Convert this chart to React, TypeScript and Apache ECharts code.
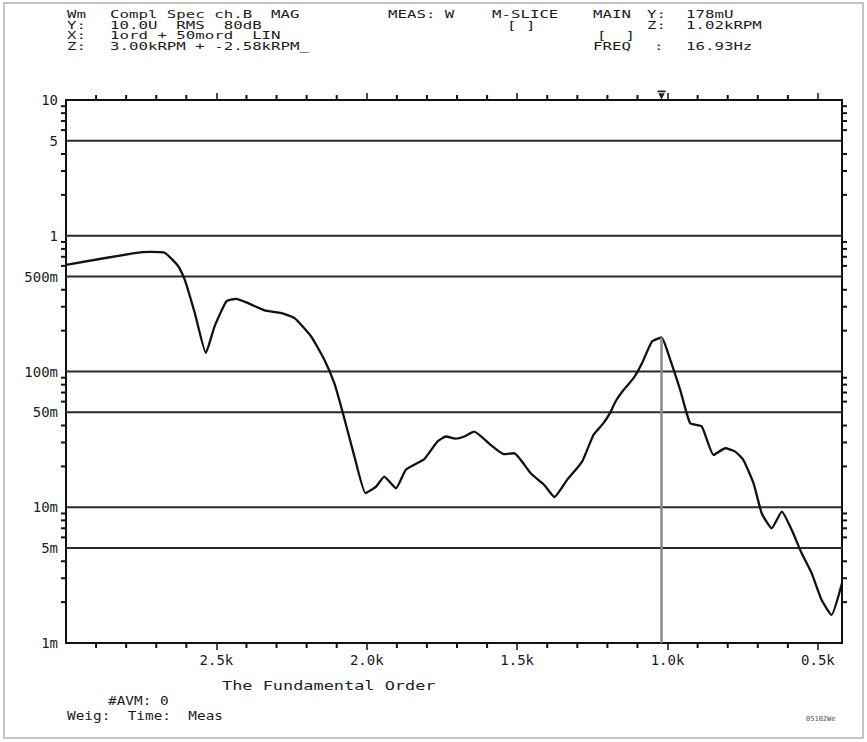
import React, { useEffect, useRef } from "react";
import * as echarts from "echarts";

// Order axis (kRPM) and magnitude (U, log scale)
const orderK = [
  3.0, 2.772, 2.72, 2.672, 2.626, 2.605, 2.572, 2.535, 2.506, 2.467, 2.434, 2.395,
  2.34, 2.284, 2.24, 2.185, 2.141, 2.108, 2.08, 2.041, 2.004, 1.969, 1.942, 1.903,
  1.87, 1.809, 1.765, 1.737, 1.704, 1.676, 1.643, 1.588, 1.544, 1.51, 1.455, 1.41,
  1.376, 1.334, 1.284, 1.246, 1.213, 1.19, 1.173, 1.146, 1.113, 1.085, 1.052, 1.02,
  0.991, 0.958, 0.925, 0.886, 0.847, 0.808, 0.775, 0.748, 0.714, 0.687, 0.654, 0.62,
  0.587, 0.554, 0.521, 0.488, 0.455, 0.42,
];
const magnitude = [
  0.611, 0.745, 0.76, 0.75, 0.594, 0.474, 0.271, 0.137, 0.215, 0.328, 0.343, 0.319,
  0.282, 0.269, 0.247, 0.181, 0.122, 0.082, 0.0499, 0.0236, 0.0127, 0.0142, 0.0168, 0.0138,
  0.0189, 0.0226, 0.0305, 0.0332, 0.032, 0.0332, 0.0361, 0.0288, 0.0246, 0.025, 0.0178, 0.0146,
  0.0119, 0.0159, 0.0217, 0.0342, 0.0417, 0.05, 0.0601, 0.0733, 0.0893, 0.115, 0.166, 0.178,
  0.122, 0.0733, 0.0417, 0.0393, 0.0243, 0.0272, 0.0257, 0.0223, 0.015, 0.00903, 0.007, 0.00929,
  0.0068, 0.00458, 0.00327, 0.00208, 0.00161, 0.00276,
];

const cursorOrder = 1.02;
const cursorValue = 0.178;

const xMin = 0.42;
const xMax = 3.0;
const xLabelValues = [0.5, 1.0, 1.5, 2.0, 2.5];
const xMinorTicks = [
  0.6, 0.7, 0.8, 0.9, 1.1, 1.2, 1.3, 1.4, 1.6, 1.7, 1.8, 1.9,
  2.1, 2.2, 2.3, 2.4, 2.6, 2.7, 2.8, 2.9,
];

const yMin = 0.001;
const yMax = 10;
const yLabelValues = [0.001, 0.005, 0.01, 0.05, 0.1, 0.5, 1, 5, 10];
const yTickValues = [
  0.002, 0.003, 0.004, 0.006, 0.007, 0.008, 0.009,
  0.02, 0.03, 0.04, 0.06, 0.07, 0.08, 0.09,
  0.2, 0.3, 0.4, 0.6, 0.7, 0.8, 0.9,
  2, 3, 4, 6, 7, 8, 9,
];
const gridValues = [0.005, 0.01, 0.05, 0.1, 0.5, 1, 5];

const headerLeft = [
  ["Wm", "Compl Spec ch.B  MAG"],
  ["Y:", "10.0U  RMS  80dB"],
  ["X:", "1ord + 50mord  LIN"],
  ["Z:", "3.00kRPM + -2.58kRPM_"],
];

const MONO = "DejaVu Sans Mono";
const INK = "#1c1c1c";

const fmtY = (v: number) =>
  v >= 1 ? String(Math.round(v)) : Math.round(v * 1000) + "m";
const fmtX = (v: number) => v.toFixed(1) + "k";

function txt(text: string, x: number, y: number, size = 10.5, sx = 1.5, fill = INK) {
  return {
    type: "text",
    x,
    y,
    scaleX: sx,
    silent: true,
    style: {
      text,
      fontFamily: MONO,
      fontSize: size,
      fill,
      verticalAlign: "middle",
      align: "left",
    },
  };
}

export default function App() {
  const ref = useRef<HTMLDivElement>(null);

  useEffect(() => {
    if (!ref.current) return;
    const chart = echarts.init(ref.current, undefined, { renderer: "svg" });

    const rows = [14.5, 25, 35.5, 46];
    const graphics: any[] = [
      {
        type: "rect",
        shape: { x: 4, y: 3, width: 859, height: 735 },
        style: { fill: "none", stroke: "#c4c4c4", lineWidth: 2 },
        silent: true,
      },
    ];
    headerLeft.forEach((r, i) => {
      graphics.push(txt(r[0], 67, rows[i]));
      graphics.push(txt(r[1], 110, rows[i]));
    });
    graphics.push(txt("MEAS: W", 388, rows[0]));
    graphics.push(txt("M-SLICE", 492, rows[0]));
    graphics.push(txt("[ ]", 507, rows[1]));
    graphics.push(txt("MAIN", 593, rows[0]));
    graphics.push(txt("Y:", 647, rows[0]));
    graphics.push(txt("178mU", 686, rows[0]));
    graphics.push(txt("Z:", 647, rows[1]));
    graphics.push(txt("1.02kRPM", 686, rows[1]));
    graphics.push(txt("[  ]", 597, rows[2]));
    graphics.push(txt("FREQ", 593, rows[3]));
    graphics.push(txt(":", 654, rows[3]));
    graphics.push(txt("16.93Hz", 686, rows[3]));
    graphics.push(txt("The Fundamental Order", 222, 686, 13, 1.3));
    graphics.push(txt("#AVM: 0", 108, 701, 12, 1.2));
    graphics.push(txt("Weig:  Time:  Meas", 67, 716, 12, 1.2));
    graphics.push(txt("05102We", 806, 719, 7, 1.0, "#555"));

    const axisLineStyle = { color: "#111", width: 2 };

    const option: any = {
      animation: false,
      backgroundColor: "#fff",
      grid: { left: 66, right: 25, top: 100, bottom: 99, containLabel: false },
      graphic: graphics,
      xAxis: [
        {
          type: "value",
          min: xMin,
          max: xMax,
          inverse: true,
          position: "bottom",
          splitLine: { show: false },
          axisLine: { show: true, lineStyle: axisLineStyle },
          axisTick: {
            show: true,
            customValues: xLabelValues,
            length: 7,
            lineStyle: { color: "#111", width: 1.5 },
          },
          axisLabel: {
            show: true,
            customValues: xLabelValues,
            formatter: fmtX,
            fontFamily: MONO,
            fontSize: 14,
            color: INK,
            margin: 10,
          },
        },
        {
          type: "value",
          min: xMin,
          max: xMax,
          inverse: true,
          position: "top",
          splitLine: { show: false },
          axisLine: { show: true, lineStyle: axisLineStyle },
          axisTick: {
            show: true,
            customValues: xLabelValues,
            length: 7,
            lineStyle: { color: "#111", width: 1.5 },
          },
          axisLabel: { show: false },
        },
      ],
      yAxis: [
        {
          type: "log",
          logBase: 10,
          min: yMin,
          max: yMax,
          position: "left",
          splitLine: { show: false },
          axisLine: { show: true, lineStyle: axisLineStyle },
          axisTick: { show: false },
          axisLabel: {
            show: true,
            customValues: yLabelValues,
            formatter: fmtY,
            fontFamily: MONO,
            fontSize: 14,
            color: INK,
            margin: 8,
          },
        },
        {
          type: "log",
          logBase: 10,
          min: yMin,
          max: yMax,
          position: "right",
          splitLine: { show: false },
          axisLine: { show: true, lineStyle: axisLineStyle },
          axisTick: { show: false },
          axisLabel: { show: false },
        },
      ],
      series: [
        {
          type: "custom",
          silent: true,
          clip: false,
          z: 1,
          data: gridValues.map((v) => [xMax, v]),
          renderItem: (params: any, api: any) => {
            const v = api.value(1);
            const l = api.coord([xMax, v]);
            const r = api.coord([xMin, v]);
            return {
              type: "rect",
              shape: { x: l[0], y: l[1] - 1, width: r[0] - l[0], height: 2 },
              style: { fill: "#2a2a2a" },
            };
          },
        },
        {
          type: "line",
          z: 3,
          symbol: "none",
          smooth: 0.15,
          lineStyle: { color: "#111", width: 2.3 },
          data: orderK.map((x, i) => [x, magnitude[i]]),
          markLine: {
            silent: true,
            symbol: "none",
            label: { show: false },
            lineStyle: { color: "#8a8a8a", width: 2.5, type: "solid" },
            data: [
              [
                { coord: [cursorOrder, cursorValue] },
                { coord: [cursorOrder, yMin] },
              ],
            ],
          },
          markPoint: {
            silent: true,
            symbol: "path://M0,0 L10,0 L10,2 L0,2 Z M1,3 L9,3 L5,10 Z",
            symbolSize: [8, 9],
            symbolOffset: [0, -5],
            itemStyle: { color: "#222" },
            label: { show: false },
            data: [{ coord: [cursorOrder, yMax] }],
          },
        },
        {
          type: "custom",
          clip: false,
          data: xMinorTicks.map((v) => [v, yMin]),
          renderItem: (p: any, api: any) => {
            const c = api.coord([api.value(0), yMin]);
            return { type: "rect", shape: { x: c[0] - 1, y: c[1], width: 2, height: 5 }, style: { fill: "#111" } };
          },
        },
        {
          type: "custom",
          clip: false,
          data: xMinorTicks.map((v) => [v, yMax]),
          renderItem: (p: any, api: any) => {
            const c = api.coord([api.value(0), yMax]);
            return { type: "rect", shape: { x: c[0] - 1, y: c[1] - 5, width: 2, height: 5 }, style: { fill: "#111" } };
          },
        },
        {
          type: "custom",
          clip: false,
          data: yTickValues.map((v) => [xMax, v]),
          renderItem: (p: any, api: any) => {
            const c = api.coord([xMax, api.value(1)]);
            return { type: "rect", shape: { x: c[0] - 5, y: c[1] - 1, width: 5, height: 2 }, style: { fill: "#111" } };
          },
        },
        {
          type: "custom",
          clip: false,
          data: yTickValues.map((v) => [xMin, v]),
          renderItem: (p: any, api: any) => {
            const c = api.coord([xMin, api.value(1)]);
            return { type: "rect", shape: { x: c[0], y: c[1] - 1, width: 5, height: 2 }, style: { fill: "#111" } };
          },
        },
      ],
    };

    chart.setOption(option);
    return () => chart.dispose();
  }, []);

  return (
    <div
      ref={ref}
      style={{ position: "fixed", left: 0, top: 0, width: 867, height: 742 }}
    />
  );
}
